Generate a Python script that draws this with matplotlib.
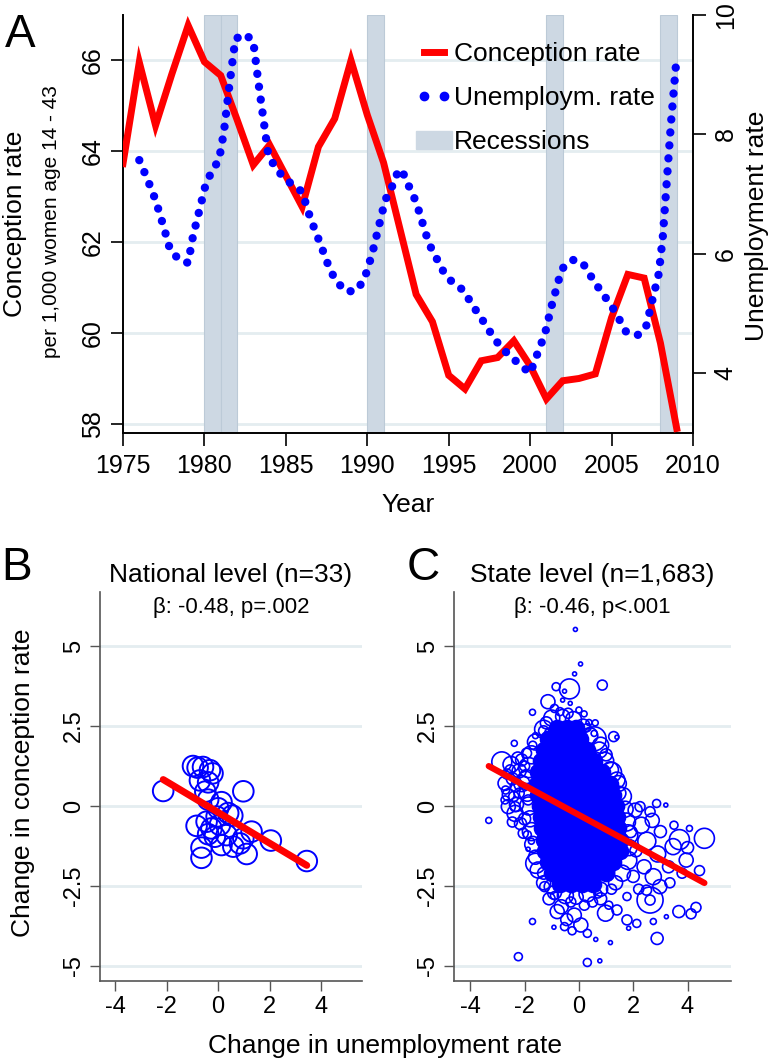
import numpy as np
import matplotlib.pyplot as plt
from matplotlib.lines import Line2D
from matplotlib.patches import Patch

plt.rcParams['font.family'] = ['Liberation Sans', 'DejaVu Sans']

# ---- panel A: national series ----
years = np.arange(1975, 2010)
conception = [63.73, 65.96, 64.57, 65.70, 66.77, 65.97, 65.67, 64.70, 63.70, 64.14,
              63.46, 62.78, 64.10, 64.72, 66.00, 64.80, 63.75, 62.30, 60.85, 60.25,
              59.07, 58.77, 59.39, 59.46, 59.83, 59.28, 58.55, 58.95, 59.00, 59.10,
              60.34, 61.29, 61.21, 59.78, 57.90]

unemp_t = [1976.0, 1976.5, 1977.0, 1977.5, 1977.9, 1978.5, 1979.0, 1979.3, 1979.7, 1980.1,
           1980.5, 1980.9, 1981.2, 1981.5, 1981.9, 1982.5, 1983.0, 1983.3, 1983.6, 1983.9,
           1984.2, 1984.7, 1985.3, 1986.0, 1986.5, 1987.1, 1987.7, 1988.1, 1988.7, 1989.3,
           1989.8, 1990.3, 1990.7, 1991.1, 1991.5, 1991.75, 1992.1, 1992.45, 1992.8, 1993.1,
           1993.6, 1993.9, 1994.3, 1994.7, 1995.2, 1995.9, 1996.35, 1996.8, 1997.3, 1997.7,
           1998.2, 1998.8, 1999.4, 2000.0, 2000.3, 2000.6, 2000.9, 2001.3, 2001.75, 2002.0,
           2002.6, 2003.2, 2003.6, 2004.1, 2004.6, 2005.1, 2005.5, 2005.9, 2006.6, 2007.1,
           2007.5, 2007.9, 2008.15, 2008.4, 2008.65, 2008.95]
unemp = [7.57, 7.25, 6.90, 6.45, 6.06, 5.89, 5.85, 6.30, 6.74, 7.19,
         7.40, 7.58, 8.05, 8.75, 9.60, 9.68, 9.56, 8.90, 8.30, 7.70,
         7.52, 7.33, 7.18, 7.04, 6.60, 6.18, 5.74, 5.54, 5.37, 5.38,
         5.56, 6.00, 6.45, 6.90, 7.11, 7.31, 7.42, 7.19, 7.00, 6.78,
         6.33, 6.11, 5.90, 5.69, 5.53, 5.39, 5.19, 5.00, 4.80, 4.62,
         4.44, 4.28, 4.14, 4.00, 4.22, 4.44, 4.65, 5.11, 5.56, 5.76,
         5.90, 5.86, 5.68, 5.47, 5.28, 5.08, 4.89, 4.69, 4.64, 4.76,
         5.22, 5.67, 6.30, 7.25, 8.20, 9.15]

rec_start = [1980, 1981, 1990, 2001, 2008]
rec_end = [1981, 1982, 1991, 2002, 2009]

# ---- panel B: national year-to-year changes ----
nat_dx = [-2.14, -0.98, -0.80, -0.59, -0.32, -0.22, -0.71, -0.39, 0.98, -0.50, -0.39,
          0.13, 0.00, 0.39, 0.55, -0.84, -0.45, -0.26, -0.39, 0.07, -0.13, 0.33,
          1.30, 0.98, 2.05, -0.65, -0.65, 0.13, 0.59, 1.11, 3.45, 0.85, -0.06]
nat_dy = [0.47, 1.25, 1.20, 1.22, 1.12, 1.02, 0.80, 0.74, 0.46, 0.45, 0.20,
          0.12, -0.07, -0.22, -0.30, -0.62, -0.49, -0.70, -0.88, -0.59, -0.96, -0.91,
          -0.80, -1.01, -1.08, -1.30, -1.62, -1.22, -1.27, -1.50, -1.72, -1.17, -0.33]
nat_beta, nat_const = -0.48, -0.20

# ---- panel C: state-level changes (weighted) ----
st_dx = [-0.13, 0.06, -0.16, 0.86, -0.35, -0.84, -0.53, -1.14, -0.90, -1.71, -0.32, -0.60,
         0.19, 0.37, 1.28, 0.56, 1.40, -2.38, -2.84, -2.65, -1.93, 3.20, 2.86, -3.32,
         -1.08, 0.56, 1.16, 1.40, 1.47, -2.11, -2.53, -2.72, -2.35, -2.72, -2.35, -1.87,
         -1.93, 2.25, 2.62,
         -2.23, 0.31, 0.77, 1.16, 0.62, -1.71, -0.92, 2.88, 2.74, 3.22, 3.68, 4.13, 4.31,
         2.62, 2.62, 4.62, 4.07, 4.44, 2.07, -1.59, -1.87, -2.05, -2.35, -2.60, 0.98, 1.77,
         1.83, 2.13, -0.65, -0.17, 0.07, 0.31, -0.53, -0.25, -1.02, 1.40, 3.47, 3.95, 3.70,
         2.74, 2.98, 3.35, 2.49, 1.77,
         2.30, 2.70, 3.00, 2.50, 2.10, 2.90, 3.30, 2.40, 2.00, 3.80, 4.00, 3.50, 1.90, 2.20,
         -1.30, -1.10, -0.80, -0.45, -0.90, -1.26,
         0.50, 0.80, 1.10, 0.20, 1.20, 0.70, -0.30,
         -2.20, -2.00, -1.90, -1.75, -2.40, -2.70,
         -1.20, -1.30, 0.30, 0.60, -0.70, -0.40, 0.00, 0.80, 1.00, -1.70, -1.60,
         # rim of the dense cloud
         -1.00, -0.60, -0.20, 0.15, -1.30, 0.40,
         -1.60, -1.75, -1.85, -1.95, -1.90, -1.85, -1.80, -1.75, -1.70, -1.60, -1.50, -1.30,
         0.75, 0.95, 1.20, 1.45, 1.60, 1.70, 1.75, 1.80, 1.85, 1.80, 1.60, 1.35,
         -0.90, -0.50, -0.10, 0.30, 0.80,
         -2.50, -2.20, -2.45, -2.10, -2.60, -2.30, -2.15, -2.45, -2.00, -2.25]
st_dy = [5.52, 4.44, 4.13, 3.78, 3.66, 3.73, 3.59, 3.26, 3.05, 2.93, 3.21, 3.31,
         2.88, 2.61, 2.17, 2.27, 2.15, 1.96, 1.38, 1.00, 1.65, 0.03, 0.08, -0.45,
         2.27, 2.10, 1.13, 0.81, 0.40, 1.44, 1.13, 0.71, 0.60, 0.19, -0.02, 0.19,
         0.92, -0.02, -0.18,
         -4.71, -4.89, -4.84, -4.27, -4.17, -3.61, -3.79, -4.14, -3.61, -3.46, -3.30, -3.37, -3.17,
         -2.94, -2.94, -1.01, -0.70, -2.02, -0.13, -1.79, -1.35, -0.85, -0.23, -0.02, -3.35, -3.56,
         -3.82, -3.67, -3.15, -3.41, -3.72, -3.98, -3.77, -3.90, -2.52, -3.25, -1.27, -1.69, -1.05,
         -2.21, -2.52, -2.40, -2.63, -2.83,
         -0.60, -0.45, -0.80, -1.10, -1.40, -1.50, -1.90, -1.90, -2.20, -2.10, -1.30, -0.60, -0.80, -2.60,
         -2.10, -2.90, -3.30, -3.55, -2.80, -2.52,
         -3.00, -2.90, -3.10, -3.10, -2.60, -2.75, -3.00,
         0.40, -0.40, -0.90, -1.10, 0.30, 0.50,
         2.60, 2.35, 2.45, 2.60, 2.95, 2.90, 3.00, 1.90, 1.60, 1.90, 2.20,
         2.75, 2.80, 2.70, 2.50, 2.40, 2.20,
         2.00, 1.60, 1.20, 0.80, 0.40, 0.00, -0.40, -0.80, -1.20, -1.60, -2.00, -2.40,
         1.75, 1.40, 1.05, 0.70, 0.30, -0.10, -0.50, -0.90, -1.30, -1.70, -2.10, -2.40,
         -2.70, -2.80, -2.85, -2.75, -2.60,
         1.30, 1.10, 0.85, 0.70, 0.35, 0.05, -0.55, -0.50, 1.25, 1.50]
st_w = [4, 4, 4, 25, 100, 16, 4, 49, 16, 9, 4, 4,
        9, 9, 25, 9, 4, 9, 100, 25, 25, 4, 16, 9,
        25, 144, 64, 64, 49, 36, 25, 49, 25, 16, 25, 25,
        49, 25, 25,
        16, 16, 4, 4, 4, 9, 4, 36, 9, 4, 36, 25, 25,
        169, 25, 100, 9, 25, 49, 100, 4, 25, 64, 49, 64, 25,
        4, 16, 49, 49, 49, 16, 16, 16, 49, 25, 64, 49, 100,
        64, 49, 25, 25, 16,
        64, 49, 36, 81, 36, 64, 36, 49, 36, 25, 36, 16, 36, 25,
        36, 36, 49, 36, 16, 25,
        25, 36, 16, 25, 25, 16, 25,
        25, 36, 16, 9, 25, 16,
        36, 25, 16, 9, 16, 25, 9, 64, 36, 16, 9,
        64, 49, 64, 49, 81, 64,
        64, 81, 100, 81, 64, 81, 64, 81, 64, 49, 64, 49,
        64, 81, 100, 64, 81, 64, 81, 100, 64, 81, 64, 49,
        49, 64, 49, 64, 49,
        64, 49, 36, 64, 36, 49, 36, 25, 25, 36]

# dense core of the state cloud, where the circles merge into solid blue
core_rows = {
    2.45: [-0.8, -0.45, -0.1],
    2.10: [-1.15, -0.75, -0.35, 0.05],
    1.75: [-1.3, -0.9, -0.5, -0.1, 0.3],
    1.40: [-1.4, -1.0, -0.6, -0.2, 0.2, 0.55],
    1.05: [-1.5, -1.1, -0.7, -0.3, 0.1, 0.5, 0.85],
    0.70: [-1.55, -1.15, -0.75, -0.35, 0.05, 0.45, 0.85, 1.15],
    0.35: [-1.5, -1.1, -0.7, -0.3, 0.1, 0.5, 0.9, 1.25],
    0.00: [-1.45, -1.05, -0.65, -0.25, 0.15, 0.55, 0.95, 1.35],
    -0.35: [-1.4, -1.0, -0.6, -0.2, 0.2, 0.6, 1.0, 1.4],
    -0.70: [-1.35, -0.95, -0.55, -0.15, 0.25, 0.65, 1.05, 1.45],
    -1.05: [-1.3, -0.9, -0.5, -0.1, 0.3, 0.7, 1.1, 1.5],
    -1.40: [-1.25, -0.85, -0.45, -0.05, 0.35, 0.75, 1.15, 1.5],
    -1.75: [-1.15, -0.75, -0.35, 0.05, 0.45, 0.85, 1.25],
    -2.10: [-1.0, -0.6, -0.2, 0.2, 0.6, 1.0],
    -2.45: [-0.7, -0.3, 0.1, 0.5],
}
st_beta, st_const = -0.46, -0.28

core_dx = np.array([x for y in core_rows for x in core_rows[y]])
core_dy = np.array([y for y in core_rows for x in core_rows[y]])

W, H = 776, 1060
fig = plt.figure(figsize=(W / 100, H / 100), dpi=100)

def fx(px):
    return px / W

def fy(py):
    return 1 - py / H

def rot_labels(labels, side):
    # vertical tick labels reading bottom to top, glyph tops facing left
    for lab in labels:
        lab.set_rotation(90)
        lab.set_rotation_mode('anchor')
        lab.set_ha('center')
        lab.set_va('baseline' if side == 'left' else 'top')

grid_c = '#e4edf0'
blue = '#0000ff'
red = '#ff0000'

# ================= panel A =================
axA = fig.add_axes([fx(123), fy(433), fx(570), 418 / H])
axA.set_xlim(1975, 2010)
axA.set_ylim(57.8, 67.0)
axA.set_axisbelow(True)
axA.grid(axis='y', color=grid_c, lw=2)
for a, b in zip(rec_start, rec_end):
    axA.axvspan(a, b, facecolor='#cdd8e3', edgecolor='#bccad7', lw=0.8, zorder=1)
axA.plot(years, conception, color=red, lw=5, solid_joinstyle='miter', zorder=3)
axA.set_xticks(np.arange(1975, 2011, 5))
axA.set_yticks([58, 60, 62, 64, 66])
axA.tick_params(axis='both', length=9, width=1.2, labelsize=18, colors='black')
axA.tick_params(axis='x', pad=6)
axA.tick_params(axis='y', pad=7.5)
for s in ['top', 'right']:
    axA.spines[s].set_visible(False)
for s in ['left', 'bottom']:
    axA.spines[s].set_linewidth(1.4)

ax2 = axA.twinx()
ax2.set_ylim(3.0, 10.0)
ax2.set_yticks([4, 6, 8, 10])
ax2.plot(unemp_t, unemp, color=blue, lw=6, ls=(0, (0.01, 1.55)),
         dash_capstyle='round', zorder=4)
ax2.tick_params(axis='y', length=9, width=1.2, labelsize=18, pad=6)
for s in ['top', 'left', 'bottom']:
    ax2.spines[s].set_visible(False)
ax2.spines['right'].set_linewidth(1.4)
rot_labels(axA.get_yticklabels(), 'left')
rot_labels(ax2.get_yticklabels(), 'right')

handles = [Line2D([], [], color=red, lw=5),
           Line2D([], [], ls='none', marker='o', ms=6, color=blue),
           Patch(facecolor='#cdd8e3', edgecolor='#cdd8e3')]
ax2.legend(handles, ['Conception rate', 'Unemploym. rate', 'Recessions'],
           loc='upper left', bbox_to_anchor=(fx(416), fy(42)),
           bbox_transform=fig.transFigure, frameon=False, fontsize=19,
           handlelength=1.35, handletextpad=0.1, labelspacing=0.76,
           borderpad=0, borderaxespad=0, numpoints=2)

fig.text(fx(20), fy(47), 'A', fontsize=33, ha='center', va='baseline')
fig.text(fx(15), fy(224), 'Conception rate', fontsize=19, rotation=90,
         ha='center', va='center')
fig.text(fx(52), fy(222), 'per 1,000 women age 14 - 43', fontsize=15,
         rotation=90, ha='center', va='center')
fig.text(fx(757), fy(226), 'Unemployment rate', fontsize=19, rotation=90,
         ha='center', va='center')
fig.text(fx(408), fy(512), 'Year', fontsize=19, ha='center', va='baseline')

# ================= panels B and C =================
axB = fig.add_axes([fx(100), fy(981), fx(262), 389 / H])
axC = fig.add_axes([fx(454), fy(981), fx(277), 389 / H])

for ax in (axB, axC):
    ax.set_xlim(-4.6, 5.6)
    ax.set_ylim(-5.47, 6.69)
    ax.set_axisbelow(True)
    ax.grid(axis='y', color=grid_c, lw=2)
    ax.set_xticks([-4, -2, 0, 2, 4])
    ax.set_xticklabels(['-4', '-2', '0', '2', '4'])
    ax.set_yticks([-5, -2.5, 0, 2.5, 5])
    ax.set_yticklabels(['-5', '-2.5', '0', '2.5', '5'])
    ax.tick_params(axis='both', length=7, width=1, color='#555555',
                   labelsize=17, labelcolor='black')
    ax.tick_params(axis='y', pad=7.4)
    rot_labels(ax.get_yticklabels(), 'left')
    for s in ['top', 'right']:
        ax.spines[s].set_visible(False)
    for s in ['left', 'bottom']:
        ax.spines[s].set_color('#555555')
        ax.spines[s].set_linewidth(1.2)

# B
axB.scatter(nat_dx, nat_dy, s=220, facecolors='none', edgecolors=blue,
            linewidths=1.4, zorder=3)
xb = np.array([min(nat_dx), max(nat_dx)])
axB.plot(xb, nat_const + nat_beta * xb, color=red, lw=5,
         solid_capstyle='round', zorder=4)
axB.text(0.5, 1.026, 'National level (n=33)', transform=axB.transAxes,
         fontsize=19, ha='center', va='baseline')
axB.text(0.5, 0.946, 'β: -0.48, p=.002', transform=axB.transAxes,
         fontsize=16, ha='center', va='baseline')

# C
axC.scatter(core_dx, core_dy, s=2.07 * 64, facecolors=blue,
            edgecolors=blue, linewidths=1.2, zorder=3)
axC.scatter(st_dx, st_dy, s=2.07 * np.array(st_w), facecolors='none',
            edgecolors=blue, linewidths=1.2, zorder=3)
xc = np.array([min(st_dx), max(st_dx)])
axC.plot(xc, st_const + st_beta * xc, color=red, lw=4.5,
         solid_capstyle='round', zorder=4)
axC.text(0.5, 1.026, 'State level (n=1,683)', transform=axC.transAxes,
         fontsize=19, ha='center', va='baseline')
axC.text(0.5, 0.946, 'β: -0.46, p<.001', transform=axC.transAxes,
         fontsize=16, ha='center', va='baseline')

fig.text(fx(17), fy(580), 'B', fontsize=33, ha='center', va='baseline')
fig.text(fx(423), fy(580), 'C', fontsize=33, ha='center', va='baseline')
fig.text(fx(23), fy(783), 'Change in conception rate', fontsize=19,
         rotation=90, ha='center', va='center')
fig.text(fx(385), fy(1053), 'Change in unemployment rate', fontsize=19,
         ha='center', va='baseline')

fig.savefig('out.png', dpi=100)
